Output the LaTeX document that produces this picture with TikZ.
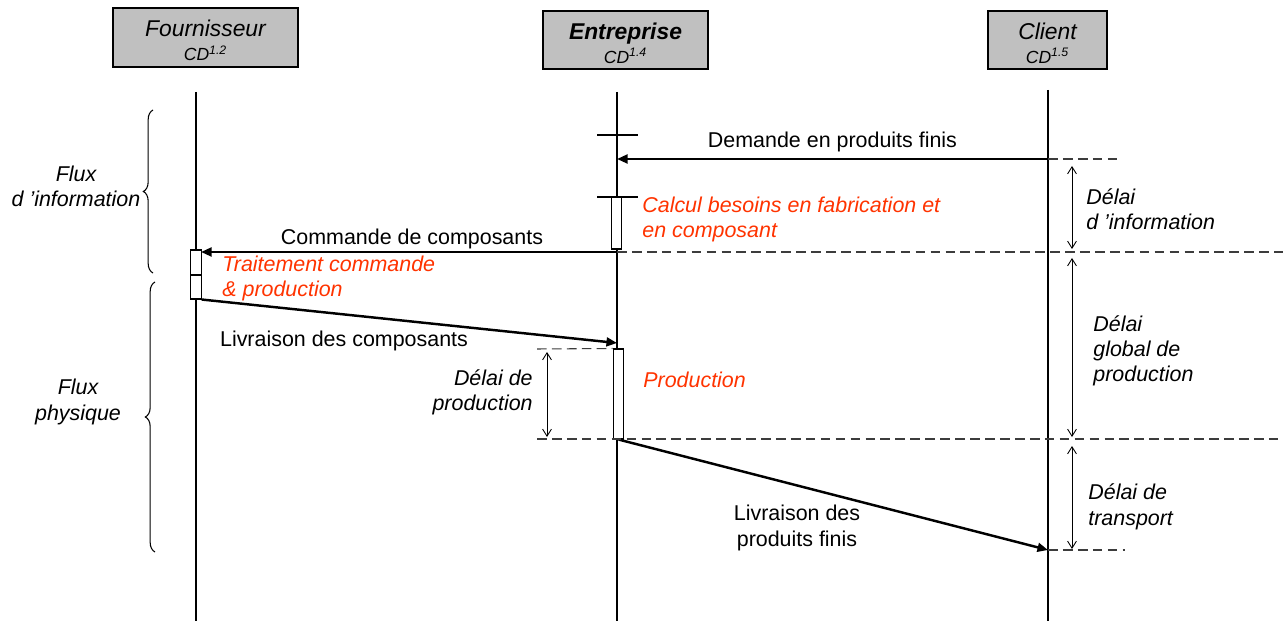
\documentclass[tikz,border=0pt]{standalone}
\usepackage{fontspec}
\setmainfont{Liberation Sans}
\usetikzlibrary{arrows.meta,decorations.pathreplacing}
\definecolor{headgray}{RGB}{192,192,192}
\definecolor{procred}{RGB}{255,51,0}
\definecolor{dashgray}{RGB}{60,60,60}

\begin{document}
\begin{tikzpicture}[x=0.02cm, y=-0.02cm,
    actor/.style={draw, line width=0.6pt, fill=headgray, inner sep=0pt},
    actortxt/.style={align=center, inner sep=0pt, font=\fontsize{13}{15}\selectfont\itshape},
    life/.style={line width=0.7pt},
    msg/.style={line width=1.4pt, -{Triangle[length=6pt,width=5pt]}},
    msgtxt/.style={inner sep=0pt, align=center, font=\fontsize{12.2}{14.5}\selectfont},
    redtxt/.style={inner sep=0pt, align=left, text=procred, font=\fontsize{12.2}{14.5}\selectfont\itshape},
    delaytxt/.style={inner sep=0pt, font=\fontsize{12.2}{14.5}\selectfont\itshape},
    actbox/.style={draw, line width=0.6pt, fill=white, inner sep=0pt, minimum width=0.21cm},
    guide/.style={dashgray, line width=0.6pt, dash pattern=on 5.5pt off 3pt},
    span/.style={line width=0.5pt, {Straight Barb[length=4pt,width=5pt]}-{Straight Barb[length=4pt,width=5pt]}},
    flux/.style={decorate, decoration={brace, amplitude=5.5pt}, line width=0.6pt}]
    \useasboundingbox (0,0) rectangle (1288,621);

    % acteurs
    \node (four) [actor, minimum width=3.7cm, minimum height=1.18cm] at (205.5,37.5) {};
    \node (entr) [actor, minimum width=3.3cm, minimum height=1.16cm] at (625.5,40) {};
    \node (clie) [actor, minimum width=2.38cm, minimum height=1.16cm] at (1047.5,40) {};
    \node (four-txt) [actortxt] at ([yshift=-1.7pt]four.center)
        {Fournisseur\\[-1.5pt]{\fontsize{10}{12}\selectfont CD\textsuperscript{1.2}}};
    \node (entr-txt) [actortxt] at ([yshift=-1.7pt]entr.center)
        {\bfseries Entreprise\\[-1.5pt]{\fontsize{10}{12}\selectfont\mdseries CD\textsuperscript{1.4}}};
    \node (clie-txt) [actortxt] at ([yshift=-1.7pt]clie.center)
        {Client\\[-1.5pt]{\fontsize{10}{12}\selectfont CD\textsuperscript{1.5}}};

    % lignes de vie
    \coordinate (four-top) at (196,92);
    \coordinate (four-bot) at (196,621);
    \coordinate (entr-top) at (617,92);
    \coordinate (entr-bot) at (617,621);
    \coordinate (clie-top) at (1048,90);
    \coordinate (clie-bot) at (1048,621);
    \draw[life] (four-top) -- (four-bot);
    \draw[line width=1.4pt] (entr-top) -- (entr-bot);
    \draw[life] (clie-top) -- (clie-bot);

    % evenements
    \coordinate (tick1-l) at (597,135);
    \coordinate (tick1-r) at (638,135);
    \coordinate (tick2-l) at (597,197);
    \coordinate (tick2-r) at (638,197);
    \coordinate (clie-dem) at (1048,159);
    \coordinate (entr-dem) at (617,159);
    \coordinate (entr-cmd) at (617,252);
    \coordinate (four-cmd) at (201,252);
    \coordinate (entr-liv) at (617,343);
    \coordinate (clie-liv) at (1048,550);
    \draw[line width=0.6pt] (tick1-l) -- (tick1-r);
    \draw[line width=0.6pt] (tick2-l) -- (tick2-r);

    \node (calcbox) [actbox, minimum height=1.04cm] at (616.5,223) {};
    \node (trtbox1) [actbox, minimum height=0.5cm] at (196,262.5) {};
    \node (trtbox2) [actbox, minimum height=0.48cm] at (196,287) {};
    \node (prodbox) [actbox, minimum height=1.8cm] at (618.5,394) {};

    % messages
    \draw[msg] (clie-dem) -- (entr-dem);
    \draw[msg] (entr-cmd) -- (four-cmd);
    \draw[msg] (trtbox2.south east) -- (entr-liv);
    \draw[msg] (prodbox.south) -- (clie-liv);

    \node (demtxt) [msgtxt, anchor=base] at (832.5,148) {Demande en produits finis};
    \node (cmdtxt) [msgtxt, anchor=base] at (412,245) {Commande de composants};
    \node (livctxt) [msgtxt, anchor=base] at (344,347) {Livraison des composants};
    \node (livptxt) [msgtxt, anchor=base] at (797,546) {Livraison des\\produits finis};

    \node (calctxt) [redtxt, anchor=base west] at (642,238) {Calcul besoins en fabrication et\\en composant};
    \node (trttxt) [redtxt, anchor=base west] at (222,297) {Traitement commande\\\& production};
    \node (prodtxt) [redtxt, anchor=base west] at (643,388) {Production};

    % reperes
    \coordinate (g-dem) at (1120,159);
    \coordinate (g-cmd) at (1283,252);
    \coordinate (g-prod-l) at (537,349);
    \coordinate (g-fin-l) at (537,439);
    \coordinate (g-fin-r) at (1283,439);
    \coordinate (g-liv) at (1125,550);
    \draw[guide] (clie-dem) -- (g-dem);
    \draw[guide] (entr-cmd) -- (g-cmd);
    \draw[guide] (g-prod-l) -- (prodbox.north west);
    \draw[guide] (g-fin-l) -- (g-fin-r);
    \draw[guide] (clie-liv) -- (g-liv);

    % delais
    \draw[span] (547,352) -- (547,437);
    \draw[span] (1072,166) -- (1072,249);
    \draw[span] (1072,258) -- (1072,437);
    \draw[span] (1072,446) -- (1072,549);
    \node (dprodtxt) [delaytxt, align=right, anchor=base east] at (533,411) {Délai de\\production};
    \node (dinfotxt) [delaytxt, align=left, anchor=base west] at (1086,230) {Délai\\d ’information};
    \node (dglobtxt) [delaytxt, align=left, anchor=base west] at (1093,382) {Délai\\global de\\production};
    \node (dtrantxt) [delaytxt, align=left, anchor=base west] at (1088,525) {Délai de\\transport};

    % flux
    \draw[flux] (153,273) -- (153,110);
    \draw[flux] (155,552) -- (155,282);
    \node (fluxinfo) [delaytxt, align=center, anchor=base] at (76,207) {Flux\\d ’information};
    \node (fluxphys) [delaytxt, align=center, anchor=base] at (78,420) {Flux\\physique};
\end{tikzpicture}
\end{document}
